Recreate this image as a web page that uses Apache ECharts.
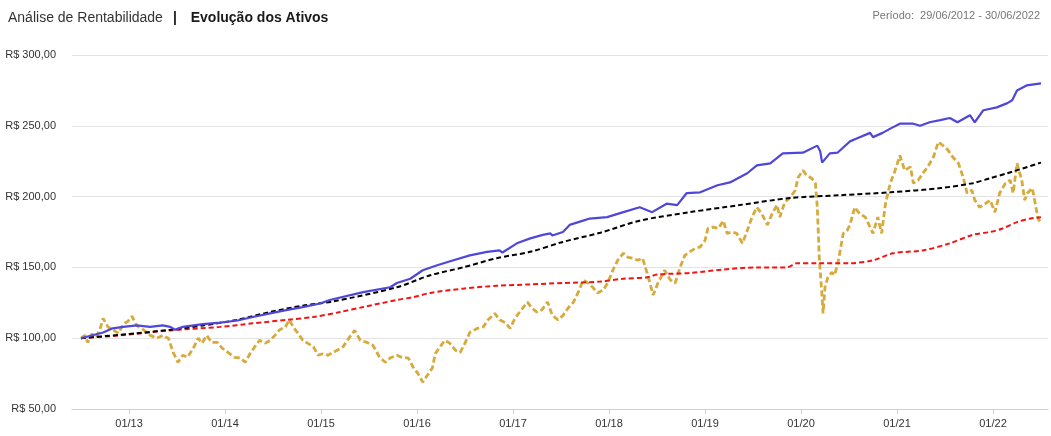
<!DOCTYPE html>
<html>
<head>
<meta charset="utf-8">
<script src="https://cdn.jsdelivr.net/npm/echarts@6/dist/echarts.min.js"></script>
<style>html,body{margin:0;padding:0;background:#fff;}#c{width:1051px;height:436px;}</style>
</head>
<body>
<div id="c"></div>
<script>
// Decimal-year positions and values (R$)
var goldYears = [2012.50,2012.54,2012.57,2012.61,2012.66,2012.70,2012.73,2012.78,2012.83,2012.89,2012.94,2012.99,2013.03,2013.08,2013.15,2013.22,2013.29,2013.35,2013.41,2013.46,2013.51,2013.56,2013.61,2013.67,2013.72,2013.76,2013.81,2013.86,2013.92,2013.97,2014.03,2014.10,2014.16,2014.21,2014.26,2014.31,2014.36,2014.42,2014.47,2014.52,2014.57,2014.63,2014.67,2014.71,2014.76,2014.81,2014.86,2014.92,2014.97,2015.02,2015.07,2015.13,2015.18,2015.23,2015.30,2015.35,2015.41,2015.48,2015.54,2015.61,2015.67,2015.72,2015.79,2015.84,2015.91,2015.96,2016.01,2016.06,2016.11,2016.16,2016.19,2016.24,2016.29,2016.34,2016.40,2016.45,2016.50,2016.55,2016.63,2016.69,2016.74,2016.81,2016.86,2016.92,2016.97,2017.02,2017.07,2017.15,2017.20,2017.25,2017.30,2017.36,2017.41,2017.47,2017.52,2017.57,2017.63,2017.68,2017.73,2017.78,2017.83,2017.88,2017.94,2017.99,2018.04,2018.09,2018.15,2018.20,2018.25,2018.30,2018.35,2018.41,2018.46,2018.51,2018.58,2018.64,2018.69,2018.74,2018.79,2018.84,2018.90,2018.95,2019.00,2019.03,2019.08,2019.14,2019.19,2019.23,2019.28,2019.33,2019.39,2019.44,2019.49,2019.54,2019.59,2019.65,2019.70,2019.75,2019.78,2019.83,2019.89,2019.94,2019.97,2020.02,2020.06,2020.11,2020.15,2020.17,2020.19,2020.22,2020.23,2020.25,2020.28,2020.32,2020.35,2020.39,2020.44,2020.48,2020.51,2020.56,2020.61,2020.67,2020.72,2020.75,2020.80,2020.84,2020.88,2020.93,2020.98,2021.03,2021.08,2021.14,2021.17,2021.22,2021.27,2021.32,2021.38,2021.43,2021.48,2021.53,2021.58,2021.64,2021.69,2021.73,2021.78,2021.81,2021.86,2021.92,2021.97,2022.02,2022.07,2022.13,2022.18,2022.21,2022.25,2022.30,2022.33,2022.36,2022.41,2022.44,2022.47,2022.50];
var goldValues = [100,102,97,103,101,107,114,108,106,103.5,110,112,115.5,109,106,102,100,102,100,90,83,88,86.5,93,100,96.5,102,97,97,93,90,86.5,86,83,89,94,98.5,96.5,98.5,102,106,108,113,108,103.5,98.5,96.5,94,88,89,88,90,92,94,101,105.5,98.5,97,95,86.5,83,86,88,86.5,86,79.5,75,69,74,79,89,94,98.5,96.5,91.5,90,96.5,104,107,108,113,117.5,113,111,107,114,118.5,125.5,121,118.5,120,125.5,116,113,116,121,125.5,132.5,141,139,136,132,134,139.5,148,155,160,157,156.5,155,156.5,143,130.5,139,148,141,139,150,158.5,161,163.5,164.5,169,177.5,178.5,177.5,183,174,175,174,167,176,185.5,192.5,188,180,188,194,185.5,196,199.5,204.5,213.5,218.5,215,213,209.5,192.5,157,129,117.5,136,143,146.5,144.5,155,174,176,180,192.5,188,185.5,178.5,174,185.5,174,195,209.5,218.5,229,218.5,221,209.5,211.5,216.5,221,228,238.5,236,233,228,223.5,213.5,202.5,204.5,197.5,192.5,195,197.5,189,202.5,209.5,211.5,202.5,223.5,211.5,197.5,202.5,206,195,184.5,181];

var blueYears = [2012.50,2012.73,2012.83,2012.94,2013.08,2013.22,2013.35,2013.43,2013.48,2013.56,2013.77,2013.95,2014.13,2014.29,2014.47,2014.65,2014.81,2014.99,2015.09,2015.44,2015.72,2015.79,2015.93,2016.06,2016.21,2016.38,2016.55,2016.73,2016.86,2016.89,2017.04,2017.18,2017.31,2017.39,2017.41,2017.52,2017.59,2017.73,2017.80,2017.98,2018.15,2018.32,2018.45,2018.60,2018.71,2018.81,2018.95,2019.13,2019.26,2019.44,2019.54,2019.68,2019.81,2020.02,2020.17,2020.20,2020.22,2020.30,2020.38,2020.51,2020.58,2020.72,2020.75,2020.85,2020.93,2021.03,2021.17,2021.24,2021.34,2021.45,2021.55,2021.63,2021.76,2021.81,2021.90,2022.04,2022.15,2022.20,2022.25,2022.35,2022.50];
var blueValues = [100,104,107,108,109,108,109,108,106,108,110,111,112.5,115,117.5,120,122,124.5,127,132.5,136,139,142,148,151.5,155,158.5,161,162,160.5,167,170.5,173,174,172.5,175,180,183,184.5,185.5,189,192.5,189,195,194,202.5,203,208,210,216.5,222,223.5,230.5,231,236,232,224,230.5,231,239,241,245,242,245,248,251.5,251.5,250,252.5,254,255.5,252.5,257.5,252.5,261,263,266,268,275,278.5,280];

var blackYears = [2012.50,2013.08,2013.43,2013.77,2014.13,2014.47,2014.81,2015.13,2015.79,2016.14,2016.48,2016.83,2017.18,2017.52,2017.91,2018.32,2018.84,2019.36,2019.89,2020.41,2020.93,2021.45,2021.79,2021.97,2022.15,2022.50];
var blackValues = [100,103.5,106,109,113,118.5,123,126,136,144.5,150,156.5,161,168,174.5,183,189,194,199,201,203,206,209.5,213,216.5,224];

var redYears = [2012.50,2012.91,2013.43,2013.95,2014.29,2014.65,2014.92,2015.20,2015.44,2015.79,2015.96,2016.14,2016.48,2016.83,2017.18,2017.52,2017.91,2018.15,2018.40,2018.50,2018.84,2019.19,2019.54,2019.85,2019.96,2020.17,2020.51,2020.75,2020.96,2021.27,2021.55,2021.79,2021.97,2022.10,2022.25,2022.39,2022.50];
var redValues = [100,102,105.5,108,110.5,113,115,118.5,122,127,129,132,135,137,138,139,140,142,143,145,146,148.5,150,150,153,153,153,155,160,162,167,173,175,177.5,182,184.5,185.5];

var yearTicks = [2013,2014,2015,2016,2017,2018,2019,2020,2021,2022];

function pairs(xs, ys) { return xs.map(function (x, i) { return [x, ys[i]]; }); }

var chart = echarts.init(document.getElementById('c'), null, { renderer: 'canvas' });
var font = '"Liberation Sans", Arial, sans-serif';
chart.setOption({
  animation: false,
  backgroundColor: '#fff',
  textStyle: { fontFamily: font },
  title: [{
    left: 3, top: 4,
    text: '{a|Análise de Rentabilidade}  {b|| }  {b|Evolução dos Ativos}',
    textStyle: {
      fontFamily: font,
      rich: {
        a: { fontSize: 14, color: '#333', fontWeight: 'normal', fontFamily: font },
        b: { fontSize: 14, color: '#1a1a1a', fontWeight: 'bold', fontFamily: font }
      }
    }
  }, {
    right: 6, top: 5,
    text: 'Período:  29/06/2012 - 30/06/2022',
    textStyle: { fontSize: 11, color: '#777', fontWeight: 'normal', fontFamily: font }
  }],
  grid: { left: 72, right: 3, top: 55, bottom: 27 },
  xAxis: {
    type: 'value',
    min: 2012.406,
    max: 2022.573,
    axisLine: { show: true, lineStyle: { color: '#c4d2e8', width: 1 } },
    axisTick: { show: true, customValues: yearTicks, length: 5, lineStyle: { color: '#c4d2e8' } },
    axisLabel: {
      customValues: yearTicks,
      color: '#333', fontSize: 11, margin: 9, fontFamily: font,
      formatter: function (v) { return '01/' + String(Math.round(v)).slice(2); }
    },
    splitLine: { show: false }
  },
  yAxis: {
    type: 'value',
    min: 50, max: 300, interval: 50,
    axisLine: { show: false },
    axisTick: { show: false },
    axisLabel: {
      color: '#333', fontSize: 11, margin: 16, fontFamily: font,
      formatter: function (v) { return 'R$ ' + v.toFixed(2).replace('.', ','); }
    },
    splitLine: { lineStyle: { color: '#e3e3e3', width: 1 } }
  },
  series: [
    { name: 'Ibovespa', type: 'line', data: pairs(goldYears, goldValues), showSymbol: false, symbol: 'none',
      lineStyle: { color: '#d6aa3c', width: 2.8, type: [6, 3] } },
    { name: 'IPCA', type: 'line', data: pairs(redYears, redValues), showSymbol: false, symbol: 'none', smooth: 0.3,
      lineStyle: { color: '#f01414', width: 2, type: [5, 3] } },
    { name: 'CDI', type: 'line', data: pairs(blackYears, blackValues), showSymbol: false, symbol: 'none', smooth: 0.3,
      lineStyle: { color: '#000', width: 2, type: [5, 3] } },
    { name: 'Carteira', type: 'line', data: pairs(blueYears, blueValues), showSymbol: false, symbol: 'none',
      lineStyle: { color: '#4f47d8', width: 2.2 } }
  ]
});
</script>
</body>
</html>
